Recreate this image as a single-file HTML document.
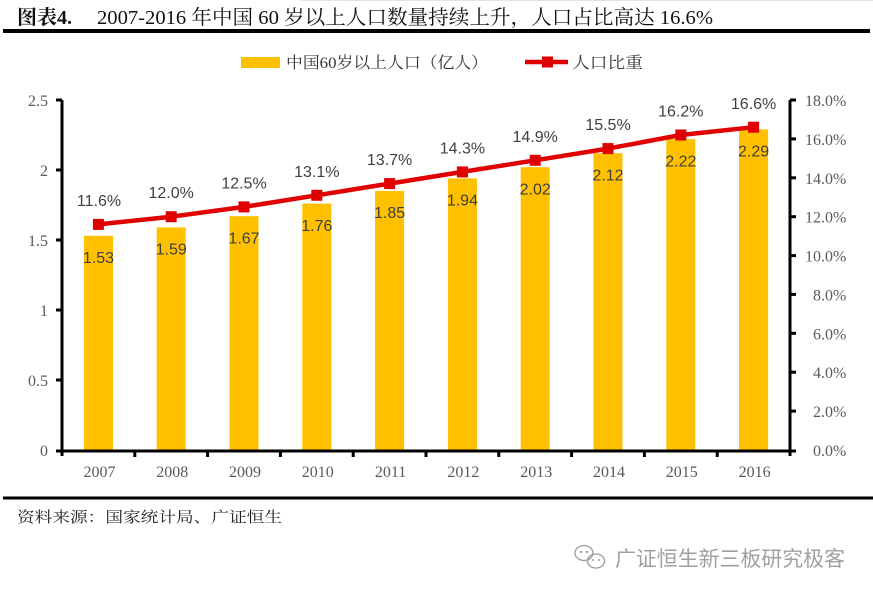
<!DOCTYPE html>
<html>
<head>
<meta charset="utf-8">
<style>
html,body{margin:0;padding:0;background:#fff;}
svg{display:block;}
.serif{font-family:"Liberation Serif","Noto Serif CJK SC",serif;}
.sans{font-family:"Liberation Sans","Noto Sans CJK SC",sans-serif;}
</style>
</head>
<body>
<svg width="873" height="596" viewBox="0 0 873 596" xmlns="http://www.w3.org/2000/svg">
<rect width="873" height="596" fill="#fff"/>
<line x1="300" y1="0.5" x2="873" y2="0.5" stroke="#e4e4e4" stroke-width="1"/>
<!-- Title -->
<text x="17" y="24" class="serif" font-size="20" font-weight="bold" fill="#111" textLength="55" lengthAdjust="spacingAndGlyphs">图表4.</text>
<text x="97" y="24" class="serif" font-size="20" fill="#111" textLength="616" lengthAdjust="spacingAndGlyphs">2007-2016 年中国 60 岁以上人口数量持续上升，人口占比高达 16.6%</text>
<rect x="3" y="29" width="867" height="4" fill="#000"/>

<!-- Legend -->
<rect x="241" y="57" width="39" height="11" fill="#FFC000"/>
<text x="286" y="68" class="serif" font-size="16" fill="#333" textLength="202" lengthAdjust="spacingAndGlyphs">中国60岁以上人口（亿人）</text>
<line x1="525" y1="62" x2="568" y2="62" stroke="#E00000" stroke-width="4.5"/>
<rect x="542" y="56.5" width="11" height="11" fill="#E00000"/>
<text x="572" y="68" class="serif" font-size="16" fill="#333" textLength="71" lengthAdjust="spacingAndGlyphs">人口比重</text>

<!-- Bars -->
<g fill="#FFC000">
<rect x="84" y="235.8" width="29" height="214.2"/>
<rect x="156.7" y="227.4" width="29" height="222.6"/>
<rect x="229.5" y="216.2" width="29" height="233.8"/>
<rect x="302.3" y="203.6" width="29" height="246.4"/>
<rect x="375.1" y="191" width="29" height="259"/>
<rect x="447.9" y="178.4" width="29" height="271.6"/>
<rect x="520.7" y="167.2" width="29" height="282.8"/>
<rect x="593.5" y="153.2" width="29" height="296.8"/>
<rect x="666.3" y="139.2" width="29" height="310.8"/>
<rect x="739.1" y="129.4" width="29" height="320.6"/>
</g>

<!-- Bar labels -->
<g class="sans" font-size="16" fill="#404040" text-anchor="middle">
<text x="98.5" y="263">1.53</text>
<text x="171.2" y="254.5">1.59</text>
<text x="244" y="243.5">1.67</text>
<text x="316.8" y="231">1.76</text>
<text x="389.6" y="218">1.85</text>
<text x="462.4" y="205.5">1.94</text>
<text x="535.2" y="194.5">2.02</text>
<text x="608" y="180.5">2.12</text>
<text x="680.8" y="166.5">2.22</text>
<text x="753.6" y="156.5">2.29</text>
</g>

<!-- Line -->
<polyline fill="none" stroke="#E00000" stroke-width="4.5" stroke-linejoin="round"
points="98.4,224.4 171.2,216.7 244,206.9 316.8,195.3 389.6,183.6 462.4,171.9 535.2,160.3 608,148.6 680.8,135 753.6,127.2"/>
<g fill="#E00000">
<rect x="92.9" y="218.9" width="11" height="11"/>
<rect x="165.7" y="211.2" width="11" height="11"/>
<rect x="238.5" y="201.4" width="11" height="11"/>
<rect x="311.3" y="189.8" width="11" height="11"/>
<rect x="384.1" y="178.1" width="11" height="11"/>
<rect x="456.9" y="166.4" width="11" height="11"/>
<rect x="529.7" y="154.8" width="11" height="11"/>
<rect x="602.5" y="143.1" width="11" height="11"/>
<rect x="675.3" y="129.5" width="11" height="11"/>
<rect x="748.1" y="121.7" width="11" height="11"/>
</g>

<!-- Percent labels -->
<g class="sans" font-size="16" fill="#404040" text-anchor="middle">
<text x="99" y="206">11.6%</text>
<text x="171.2" y="198">12.0%</text>
<text x="244" y="188.5">12.5%</text>
<text x="316.8" y="177">13.1%</text>
<text x="389.6" y="165">13.7%</text>
<text x="462.4" y="153.5">14.3%</text>
<text x="535.2" y="142">14.9%</text>
<text x="608" y="130">15.5%</text>
<text x="680.8" y="116.5">16.2%</text>
<text x="753.6" y="109">16.6%</text>
</g>

<!-- Axes -->
<g stroke="#000" stroke-width="3">
<line x1="62" y1="100" x2="62" y2="456"/>
<line x1="790" y1="100" x2="790" y2="456"/>
<line x1="60.5" y1="451" x2="791.5" y2="451"/>
<!-- left ticks -->
<line x1="56" y1="100" x2="62" y2="100"/>
<line x1="56" y1="170" x2="62" y2="170"/>
<line x1="56" y1="240" x2="62" y2="240"/>
<line x1="56" y1="310" x2="62" y2="310"/>
<line x1="56" y1="380" x2="62" y2="380"/>
<line x1="56" y1="451" x2="62" y2="451"/>
<!-- right ticks -->
<line x1="790" y1="100" x2="796" y2="100"/>
<line x1="790" y1="138.9" x2="796" y2="138.9"/>
<line x1="790" y1="177.8" x2="796" y2="177.8"/>
<line x1="790" y1="216.7" x2="796" y2="216.7"/>
<line x1="790" y1="255.6" x2="796" y2="255.6"/>
<line x1="790" y1="294.4" x2="796" y2="294.4"/>
<line x1="790" y1="333.3" x2="796" y2="333.3"/>
<line x1="790" y1="372.2" x2="796" y2="372.2"/>
<line x1="790" y1="411.1" x2="796" y2="411.1"/>
<line x1="790" y1="451" x2="796" y2="451"/>
<!-- x ticks -->
<line x1="134.8" y1="451" x2="134.8" y2="457"/>
<line x1="207.6" y1="451" x2="207.6" y2="457"/>
<line x1="280.4" y1="451" x2="280.4" y2="457"/>
<line x1="353.2" y1="451" x2="353.2" y2="457"/>
<line x1="426" y1="451" x2="426" y2="457"/>
<line x1="498.8" y1="451" x2="498.8" y2="457"/>
<line x1="571.6" y1="451" x2="571.6" y2="457"/>
<line x1="644.4" y1="451" x2="644.4" y2="457"/>
<line x1="717.2" y1="451" x2="717.2" y2="457"/>
</g>

<!-- Left axis labels -->
<g class="serif" font-size="16" fill="#595959" text-anchor="end">
<text x="48" y="106">2.5</text>
<text x="48" y="176">2</text>
<text x="48" y="246">1.5</text>
<text x="48" y="316">1</text>
<text x="48" y="386">0.5</text>
<text x="48" y="456">0</text>
</g>

<!-- Right axis labels -->
<g class="serif" font-size="16" fill="#595959" text-anchor="start">
<text x="805" y="106">18.0%</text>
<text x="805" y="144.9">16.0%</text>
<text x="805" y="183.8">14.0%</text>
<text x="805" y="222.7">12.0%</text>
<text x="805" y="261.6">10.0%</text>
<text x="813" y="300.4">8.0%</text>
<text x="813" y="339.3">6.0%</text>
<text x="813" y="378.2">4.0%</text>
<text x="813" y="417.1">2.0%</text>
<text x="813" y="456">0.0%</text>
</g>

<!-- Year labels -->
<g class="serif" font-size="16" fill="#595959" text-anchor="middle">
<text x="99.5" y="477">2007</text>
<text x="172.2" y="477">2008</text>
<text x="245" y="477">2009</text>
<text x="317.8" y="477">2010</text>
<text x="390.6" y="477">2011</text>
<text x="463.4" y="477">2012</text>
<text x="536.2" y="477">2013</text>
<text x="609" y="477">2014</text>
<text x="681.8" y="477">2015</text>
<text x="754.6" y="477">2016</text>
</g>

<!-- Bottom rule and source -->
<rect x="3" y="496.5" width="870" height="3" fill="#000"/>
<text x="17" y="522" class="serif" font-size="15" fill="#222" textLength="265" lengthAdjust="spacingAndGlyphs">资料来源：国家统计局、广证恒生</text>

<!-- Watermark -->
<g fill="none" stroke="#9a9a9a" stroke-width="1.3">
<ellipse cx="584" cy="553" rx="9" ry="7.5"/>
<ellipse cx="596" cy="561" rx="8.5" ry="7"/>
</g>
<g fill="#9a9a9a">
<circle cx="581" cy="552" r="1.1"/>
<circle cx="587" cy="552" r="1.1"/>
<circle cx="593" cy="560" r="1"/>
<circle cx="599" cy="560" r="1"/>
</g>
<text x="615" y="566" class="sans" font-size="21" fill="#a0a0a0" textLength="230" lengthAdjust="spacingAndGlyphs">广证恒生新三板研究极客</text>
</svg>
</body>
</html>
